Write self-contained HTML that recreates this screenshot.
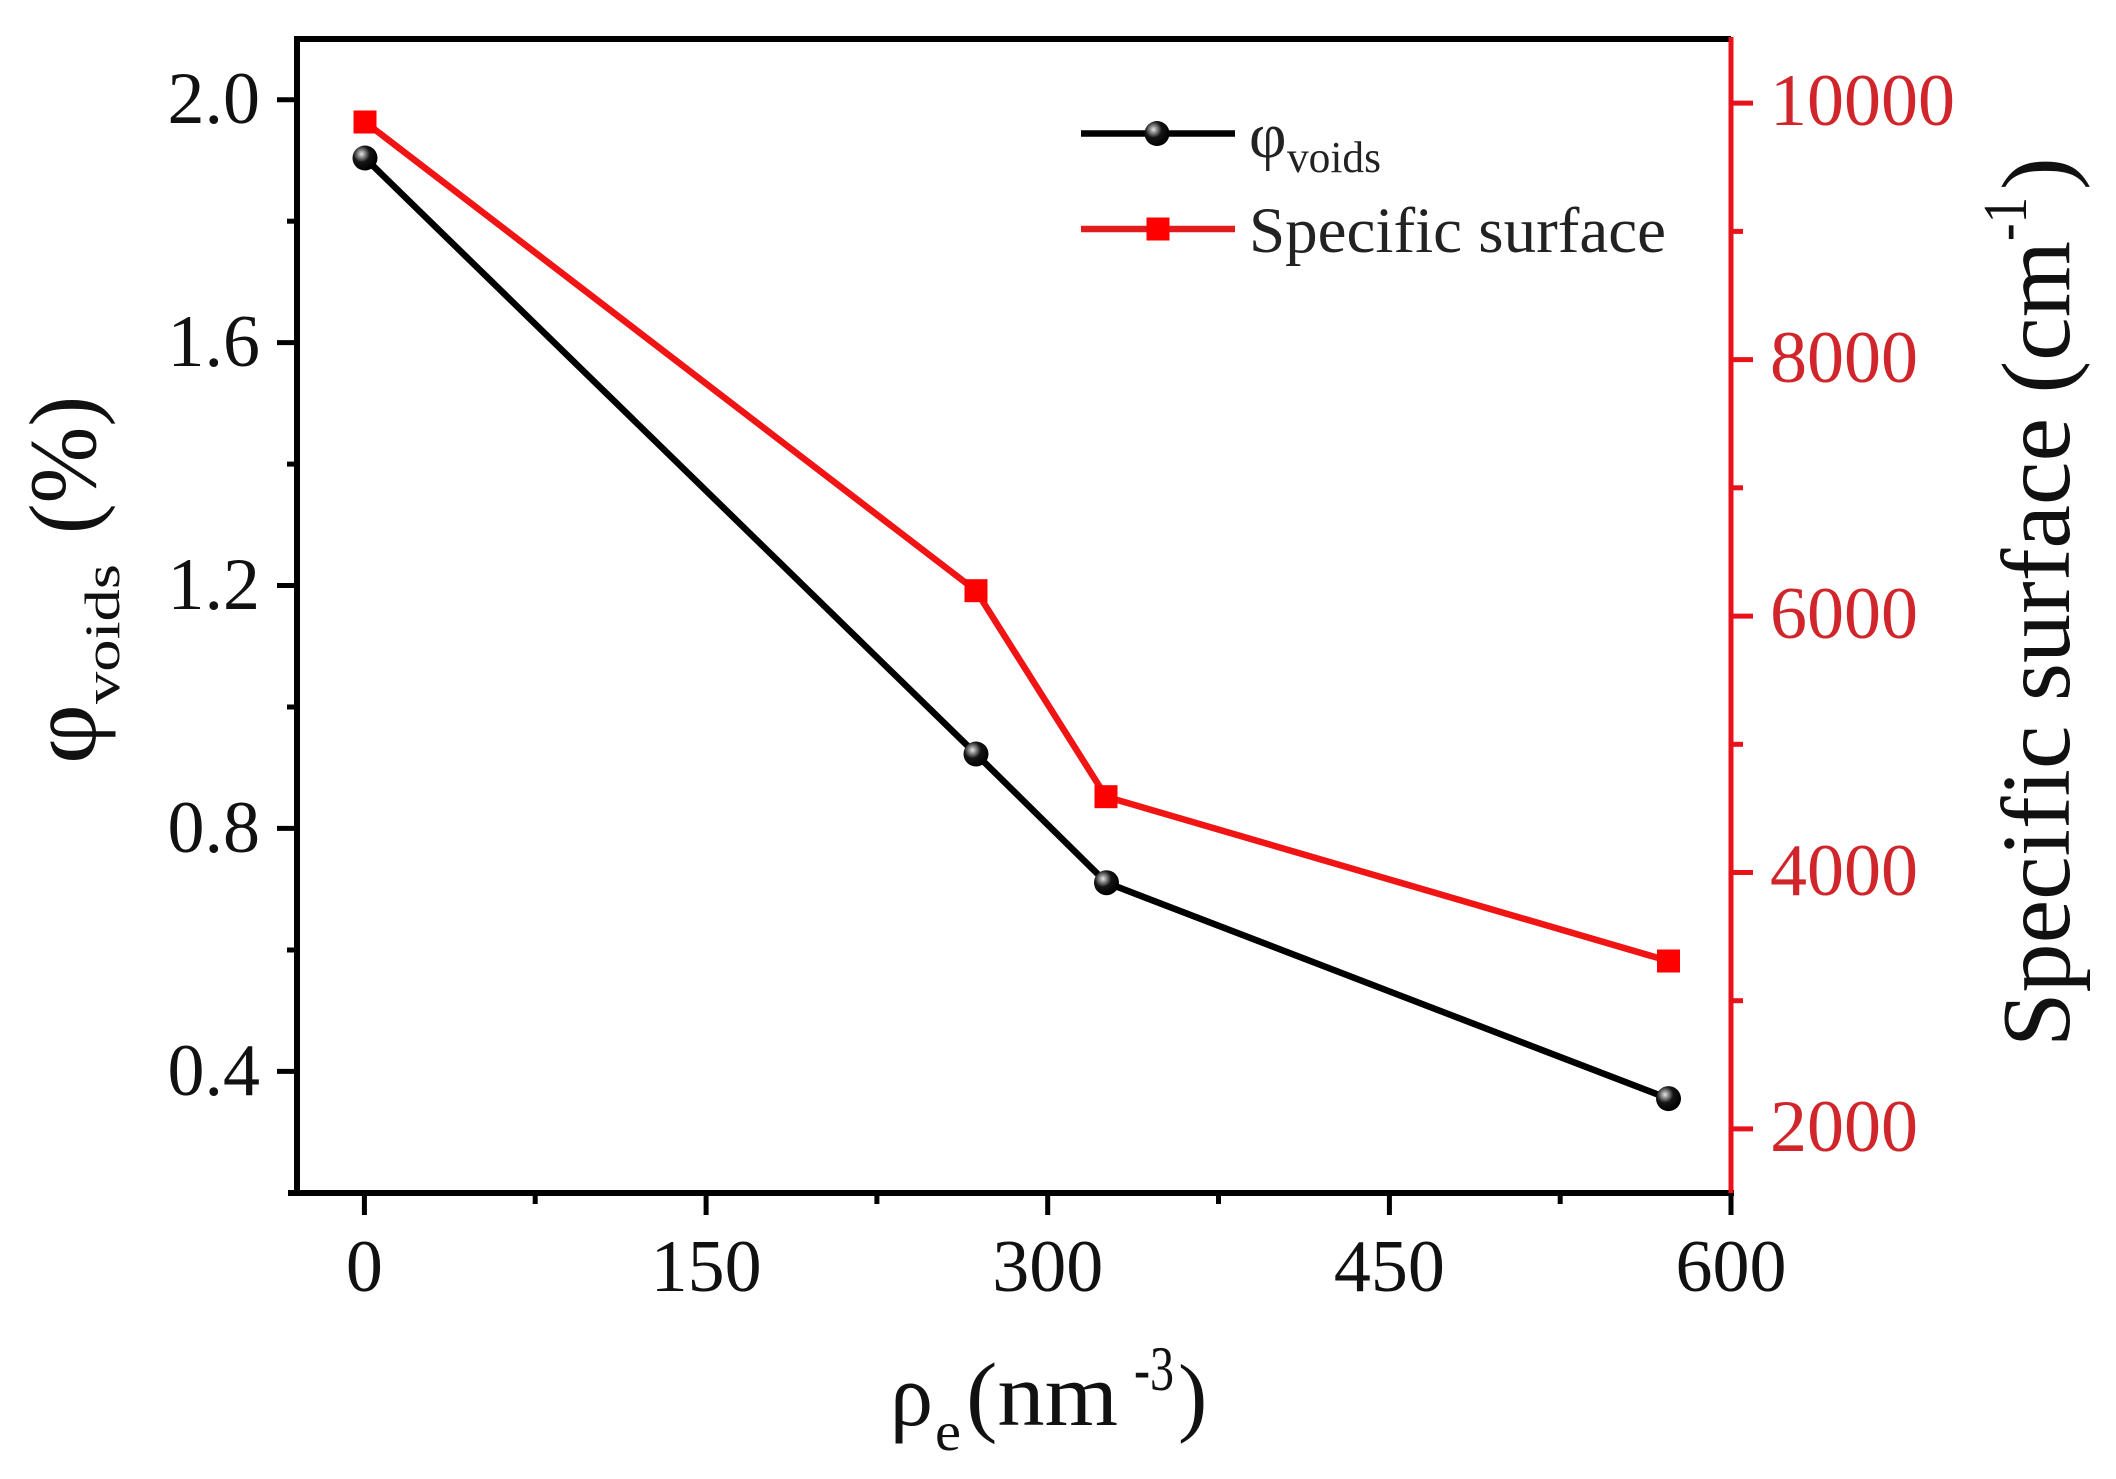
<!DOCTYPE html>
<html>
<head>
<meta charset="utf-8">
<style>
  html, body { margin: 0; padding: 0; background: #ffffff; }
  body { width: 2116px; height: 1479px; overflow: hidden; }
  svg { display: block; }
</style>
</head>
<body>
<svg xmlns="http://www.w3.org/2000/svg" width="2116" height="1479" viewBox="0 0 2116 1479" font-family="'Liberation Serif', 'DejaVu Serif', serif">
  <defs>
    <radialGradient id="ball" cx="0.36" cy="0.34" r="0.66">
      <stop offset="0" stop-color="#e6e6e6"/>
      <stop offset="0.22" stop-color="#8a8a8a"/>
      <stop offset="0.5" stop-color="#151515"/>
      <stop offset="1" stop-color="#000"/>
    </radialGradient>
  </defs>
  <rect x="0" y="0" width="2116" height="1479" fill="#ffffff"/>

  <!-- Frame -->
  <line x1="297" y1="39" x2="1731" y2="39" stroke="#000" stroke-width="6"/>
  <line x1="297" y1="36" x2="297" y2="1196" stroke="#000" stroke-width="6"/>
  <line x1="288" y1="1193" x2="1734" y2="1193" stroke="#000" stroke-width="6"/>
  <line x1="1731" y1="37" x2="1731" y2="1193" stroke="#e8121a" stroke-width="5"/>

  <!-- Left ticks -->
  <g stroke="#000" stroke-width="5">
    <line x1="277" y1="99.7" x2="297" y2="99.7"/>
    <line x1="277" y1="342.6" x2="297" y2="342.6"/>
    <line x1="277" y1="585.5" x2="297" y2="585.5"/>
    <line x1="277" y1="828.4" x2="297" y2="828.4"/>
    <line x1="277" y1="1071.4" x2="297" y2="1071.4"/>
    <line x1="287" y1="221.2" x2="297" y2="221.2"/>
    <line x1="287" y1="464.1" x2="297" y2="464.1"/>
    <line x1="287" y1="707" x2="297" y2="707"/>
    <line x1="287" y1="950" x2="297" y2="950"/>
  </g>
  <g font-size="74" fill="#111" text-anchor="end">
    <text x="260" y="123">2.0</text>
    <text x="260" y="366">1.6</text>
    <text x="260" y="609">1.2</text>
    <text x="260" y="852">0.8</text>
    <text x="260" y="1095">0.4</text>
  </g>

  <!-- Bottom ticks -->
  <g stroke="#000" stroke-width="5">
    <line x1="364.4" y1="1193" x2="364.4" y2="1215"/>
    <line x1="706.1" y1="1193" x2="706.1" y2="1215"/>
    <line x1="1047.7" y1="1193" x2="1047.7" y2="1215"/>
    <line x1="1389.4" y1="1193" x2="1389.4" y2="1215"/>
    <line x1="1731" y1="1193" x2="1731" y2="1215"/>
    <line x1="535.2" y1="1193" x2="535.2" y2="1204"/>
    <line x1="876.9" y1="1193" x2="876.9" y2="1204"/>
    <line x1="1218.5" y1="1193" x2="1218.5" y2="1204"/>
    <line x1="1560.2" y1="1193" x2="1560.2" y2="1204"/>
  </g>
  <g font-size="74" fill="#111" text-anchor="middle">
    <text x="364.4" y="1291">0</text>
    <text x="706.1" y="1291">150</text>
    <text x="1047.7" y="1291">300</text>
    <text x="1389.4" y="1291">450</text>
    <text x="1731" y="1291">600</text>
  </g>

  <!-- Right ticks -->
  <g stroke="#e8121a" stroke-width="5">
    <line x1="1731" y1="1128.9" x2="1753" y2="1128.9"/>
    <line x1="1731" y1="872.5" x2="1753" y2="872.5"/>
    <line x1="1731" y1="616.1" x2="1753" y2="616.1"/>
    <line x1="1731" y1="359.6" x2="1753" y2="359.6"/>
    <line x1="1731" y1="103.1" x2="1753" y2="103.1"/>
    <line x1="1731" y1="1000.7" x2="1743" y2="1000.7"/>
    <line x1="1731" y1="744.3" x2="1743" y2="744.3"/>
    <line x1="1731" y1="487.8" x2="1743" y2="487.8"/>
    <line x1="1731" y1="231.4" x2="1743" y2="231.4"/>
  </g>
  <g font-size="74" fill="#d0262b" text-anchor="start">
    <text x="1770" y="1151">2000</text>
    <text x="1770" y="895">4000</text>
    <text x="1770" y="638">6000</text>
    <text x="1770" y="382">8000</text>
    <text x="1770" y="125">10000</text>
  </g>

  <!-- Series: specific surface (red) -->
  <polyline points="365,122 976,590.7 1106,796.7 1668.5,961" fill="none" stroke="#f01414" stroke-width="6.5" stroke-linejoin="miter"/>
  <g fill="#ff0000">
    <rect x="353.5" y="110.5" width="23" height="23"/>
    <rect x="964.5" y="579.2" width="23" height="23"/>
    <rect x="1094.5" y="785.2" width="23" height="23"/>
    <rect x="1657" y="949.5" width="23" height="23"/>
  </g>

  <!-- Series: phi voids (black) -->
  <polyline points="365,158 976,754 1106.5,882.7 1668.5,1098.6" fill="none" stroke="#000" stroke-width="6.5" stroke-linejoin="miter"/>
  <g fill="url(#ball)">
    <circle cx="365" cy="158" r="12.5"/>
    <circle cx="976" cy="754" r="12.5"/>
    <circle cx="1106.5" cy="882.7" r="12.5"/>
    <circle cx="1668.5" cy="1098.6" r="12.5"/>
  </g>

  <!-- Legend -->
  <line x1="1081" y1="133.5" x2="1235" y2="133.5" stroke="#000" stroke-width="6.5"/>
  <circle cx="1157" cy="133.5" r="12.5" fill="url(#ball)"/>
  <line x1="1081" y1="229" x2="1235" y2="229" stroke="#e01c1c" stroke-width="6.5"/>
  <rect x="1146.5" y="217.5" width="23" height="23" fill="#ff0000"/>
  <text x="1249" y="157" font-size="65" fill="#222">φ</text>
  <text x="1287" y="172" font-size="44" fill="#222" textLength="94" lengthAdjust="spacingAndGlyphs">voids</text>
  <text x="1249" y="252" font-size="65" fill="#222" textLength="417" lengthAdjust="spacingAndGlyphs">Specific surface</text>

  <!-- Left axis title -->
  <text transform="translate(95,764) rotate(-90)" font-size="95" fill="#111" textLength="60" lengthAdjust="spacingAndGlyphs">φ</text>
  <text transform="translate(119,704) rotate(-90)" font-size="50" fill="#111" textLength="140" lengthAdjust="spacingAndGlyphs">voids</text>
  <text transform="translate(95,534) rotate(-90)" font-size="95" fill="#111" textLength="138" lengthAdjust="spacingAndGlyphs">(%)</text>

  <!-- Right axis title -->
  <text transform="translate(2069,1047) rotate(-90)" font-size="98" fill="#111" textLength="806" lengthAdjust="spacingAndGlyphs">Specific surface (cm</text>
  <text transform="translate(2026,241) rotate(-90)" font-size="62" fill="#111" textLength="44" lengthAdjust="spacingAndGlyphs">-1</text>
  <text transform="translate(2069,190) rotate(-90)" font-size="98" fill="#111">)</text>

  <!-- X axis title -->
  <text x="890" y="1425" font-size="88" fill="#111" textLength="43" lengthAdjust="spacingAndGlyphs">ρ</text>
  <text x="935" y="1450" font-size="55" fill="#111" textLength="26" lengthAdjust="spacingAndGlyphs">e</text>
  <text x="966" y="1425" font-size="90" fill="#111" textLength="152" lengthAdjust="spacingAndGlyphs">(nm</text>
  <text x="1134" y="1390" font-size="64" fill="#111" textLength="40" lengthAdjust="spacingAndGlyphs">-3</text>
  <text x="1178" y="1425" font-size="88" fill="#111">)</text>
</svg>
</body>
</html>
